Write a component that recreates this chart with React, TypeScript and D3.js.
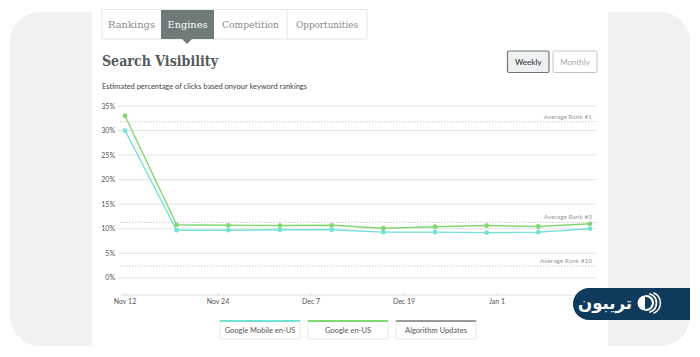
import React from "react";
import * as d3 from "d3";

const weekDates = ["2017-11-12","2017-11-19","2017-11-26","2017-12-03","2017-12-10","2017-12-17","2017-12-24","2017-12-31","2018-01-07","2018-01-14"];
const googleMobile = [30.0, 9.7, 9.7, 9.8, 9.8, 9.3, 9.3, 9.2, 9.3, 10.0];
const googleDesktop = [33.0, 10.8, 10.7, 10.65, 10.7, 10.1, 10.4, 10.65, 10.45, 11.0];
const yTicks = [0, 5, 10, 15, 20, 25, 30, 35];
const rankLines = [
  { label: "Average Rank #1", value: 31.8 },
  { label: "Average Rank #3", value: 11.3 },
  { label: "Average Rank #10", value: 2.4 },
];
const tabs = ["Rankings", "Engines", "Competition", "Opportunities"];
const legendItems = [
  { label: "Google Mobile en-US", color: "#72e2d4" },
  { label: "Google en-US", color: "#84d673" },
  { label: "Algorithm Updates", color: "#9a9a9a" },
];

const CYAN = "#72e2d4";
const GREEN = "#84d673";
const FONT = "Lato, 'Open Sans', sans-serif";

export default function App() {
  const parse = d3.timeParse("%Y-%m-%d");
  const dates = weekDates.map((d) => parse(d) as Date);
  const x = d3.scaleTime().domain([dates[0], dates[dates.length - 1]]).range([125, 590]);
  const y = d3.scaleLinear().domain([-3.5, 35]).range([295, 106]);
  const span = +dates[dates.length - 1] - +dates[0];
  const xTicks = d3.range(5).map((i) => new Date(+dates[0] + (i * span) / 5));
  const fmt = d3.timeFormat("%b %-d");
  const line = d3
    .line<number>()
    .x((_, i) => x(dates[i]))
    .y((v) => y(v));

  const plotL = 118;
  const plotR = 596;

  const tabX = [102, 161, 214, 287, 367];

  return (
    <svg
      width={700}
      height={357}
      style={{ position: "absolute", left: 0, top: 0, background: "#ffffff" }}
    >
      {/* background panels */}
      <rect x={10} y={12} width={680} height={334} rx={30} fill="#f3f0f1" />
      <rect x={92} y={0} width={516} height={357} fill="#ffffff" />

      {/* tabs */}
      <rect x={102} y={9.5} width={265} height={29.5} fill="#fff" stroke="#e6e6e6" />
      <rect x={161} y={10} width={53} height={29} fill="#6f7a79" />
      <path d="M182,39 L192,39 L187,44 Z" fill="#6f7a79" />
      <line x1={287} y1={10} x2={287} y2={39} stroke="#e6e6e6" />
      {tabs.map((t, i) => (
        <text
          key={t}
          x={(tabX[i] + tabX[i + 1]) / 2}
          y={27.5}
          textAnchor="middle"
          fontFamily="'DejaVu Serif', serif"
          fontSize={10}
          textLength={[47, 40, 57, 62][i]}
          lengthAdjust="spacingAndGlyphs"
          fill={i === 1 ? "#ffffff" : "#8a8a8a"}
        >
          {t}
        </text>
      ))}

      {/* title */}
      <text
        x={102}
        y={66}
        fontFamily="'DejaVu Serif', serif"
        fontWeight="bold"
        fontSize={15.5}
        textLength={116}
        lengthAdjust="spacingAndGlyphs"
        fill="#555a5a"
      >
        Search Visibility
      </text>
      <text x={102} y={88.5} fontFamily={FONT} fontSize={7.5} fill="#444" textLength={205} lengthAdjust="spacingAndGlyphs">
        Estimated percentage of clicks based onyour keyword rankings
      </text>

      {/* buttons */}
      <rect x={507.5} y={51} width={41.5} height={21.5} rx={1.5} fill="#eef1f1" stroke="#6e7878" strokeWidth={1.2} />
      <text x={528.3} y={64.5} textAnchor="middle" fontFamily={FONT} fontSize={8} fontWeight={600} fill="#3f4646">
        Weekly
      </text>
      <rect x={553} y={51} width={44} height={21.5} rx={1.5} fill="#fff" stroke="#c4c4c4" />
      <text x={575} y={64.5} textAnchor="middle" fontFamily={FONT} fontSize={8} fill="#a8a8a8">
        Monthly
      </text>

      {/* y grid + labels */}
      {yTicks.map((t) => (
        <g key={t}>
          <line x1={plotL} x2={plotR} y1={y(t)} y2={y(t)} stroke="#e3e3e3" strokeWidth={1} />
          <text x={115} y={y(t) + 2.5} textAnchor="end" fontFamily={FONT} fontSize={7} fill="#555">
            {t}%
          </text>
        </g>
      ))}

      {/* average rank lines */}
      {rankLines.map((r) => (
        <g key={r.label}>
          <line
            x1={plotL + 2}
            x2={plotR}
            y1={y(r.value)}
            y2={y(r.value)}
            stroke="#bdbdbd"
            strokeWidth={0.8}
            strokeDasharray="1.5,1.5"
          />
          <text
            x={592}
            y={y(r.value) - 3}
            textAnchor="end"
            fontFamily={FONT}
            fontSize={6.5}
            fill="#9a9a9a"
          >
            {r.label}
          </text>
        </g>
      ))}

      {/* x axis */}
      <line x1={plotL + 3} x2={plotR} y1={295} y2={295} stroke="#e0e0e0" />
      {xTicks.map((t, i) => (
        <g key={i}>
          <line x1={x(t)} x2={x(t)} y1={293} y2={296} stroke="#d8d8d8" />
          <text x={x(t)} y={304} textAnchor="middle" fontFamily={FONT} fontSize={7} fill="#555">
            {fmt(t)}
          </text>
        </g>
      ))}

      {/* series */}
      <path d={line(googleMobile) || ""} fill="none" stroke={CYAN} strokeWidth={1.4} />
      <path d={line(googleDesktop) || ""} fill="none" stroke={GREEN} strokeWidth={1.4} />
      {googleMobile.map((v, i) => (
        <circle key={"m" + i} cx={x(dates[i])} cy={y(v)} r={2.4} fill={CYAN} />
      ))}
      {googleDesktop.map((v, i) => (
        <circle key={"d" + i} cx={x(dates[i])} cy={y(v)} r={2.4} fill={GREEN} />
      ))}

      {/* legend */}
      {legendItems.map((l, i) => {
        const lx = 220 + i * 88;
        return (
          <g key={l.label}>
            <rect x={lx} y={321} width={80} height={18} fill="#fff" stroke="#e6e6e6" strokeWidth={0.8} />
            <line x1={lx} x2={lx + 80} y1={321} y2={321} stroke={l.color} strokeWidth={2} />
            <text x={lx + 40} y={332.5} textAnchor="middle" fontFamily={FONT} fontSize={7.5} fill="#555">
              {l.label}
            </text>
          </g>
        );
      })}

      {/* logo */}
      <path d="M589,288 L690,288 L690,320 L589,320 A16,16 0 0 1 589,288 Z" fill="#0e3b5c" />
      <g fill="none" stroke="#ffffff" strokeLinecap="round">
        <path d="M646,296 A7,7 0 0 1 646,310" strokeWidth={2.2} />
        <path d="M650,294 A9.5,9.5 0 0 1 650,312" strokeWidth={1.8} />
        <path d="M654,293 A11,11 0 0 1 654,313" strokeWidth={1.5} />
      </g>
      <path d="M645,295.5 A7.5,7.5 0 0 0 645,310.5 Z" fill="#ffffff" />
      <text
        x={605}
        y={309}
        textAnchor="middle"
        fontFamily="'DejaVu Sans', sans-serif"
        fontWeight="bold"
        fontSize={17}
        textLength={54}
        lengthAdjust="spacingAndGlyphs"
        fill="#ffffff"
        direction="rtl"
      >
        تریبون
      </text>
    </svg>
  );
}
